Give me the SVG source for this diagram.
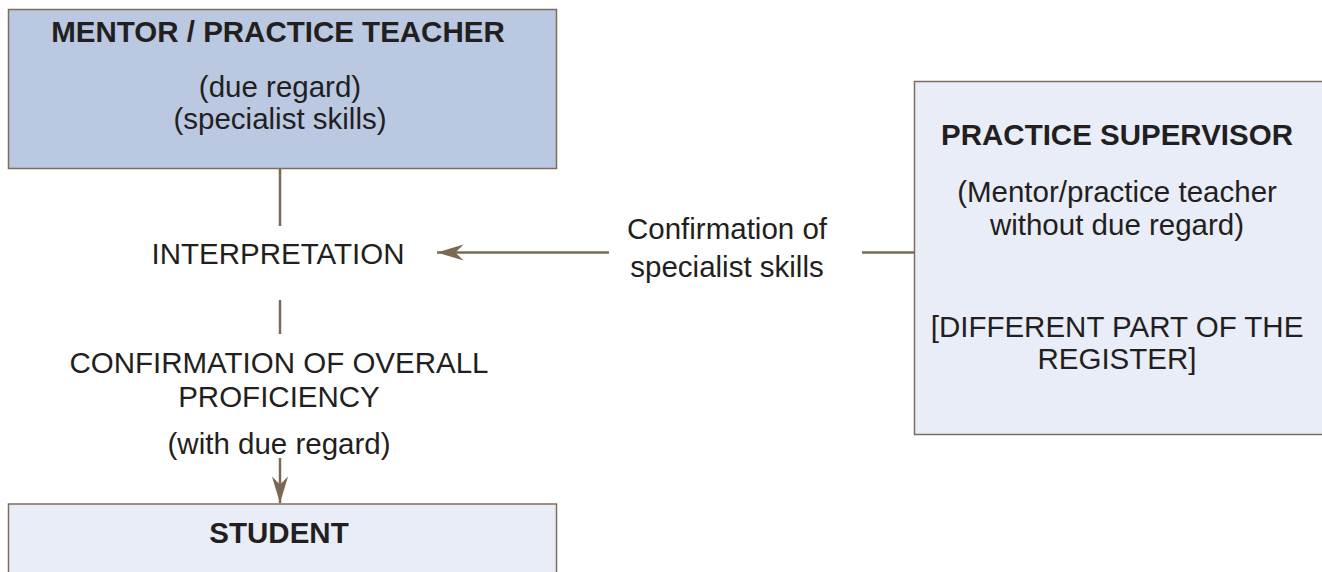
<svg xmlns="http://www.w3.org/2000/svg" width="1322" height="572" viewBox="0 0 1322 572">
<style>
.box{stroke:#7d6e5c;stroke-width:1.5}
.dark{fill:#bac8e2}
.light{fill:#e9edf7}
text{font-family:"Liberation Sans",Arial,sans-serif;fill:#231f20;text-anchor:middle}
.b{font-weight:bold;font-size:29.5px}
.r{font-size:29.5px}
.conn{stroke:#7a6a55;stroke-width:2.5;fill:none}
</style>
<defs>
<marker id="ah" markerUnits="userSpaceOnUse" markerWidth="30" markerHeight="20" viewBox="-24 -8 26 16" refX="0" refY="0" orient="auto">
<path d="M0,0 L-23,-7 L-16,0 L-23,7 Z" fill="#7a6a55"/>
</marker>
</defs>
<g id="connectors">
<line class="conn" x1="280" y1="169" x2="280" y2="226"/>
<line class="conn" x1="280" y1="300" x2="280" y2="334"/>
<line class="conn" x1="280" y1="458" x2="280" y2="503" marker-end="url(#ah)"/>
<line class="conn" x1="609" y1="252.5" x2="437" y2="252.5" marker-end="url(#ah)"/>
<line class="conn" x1="862" y1="252.5" x2="914" y2="252.5"/>
</g>
<g id="mentor">
<rect class="box dark" x="8.5" y="9.5" width="548" height="159"/>
<text class="b" x="278" y="42">MENTOR / PRACTICE TEACHER</text>
<text class="r" x="280" y="97">(due regard)</text>
<text class="r" x="280" y="129">(specialist skills)</text>
</g>
<g id="interpretation">
<text class="r" x="278" y="264">INTERPRETATION</text>
</g>
<g id="confirmation-overall">
<text class="r" x="279" y="373">CONFIRMATION OF OVERALL</text>
<text class="r" x="279" y="407">PROFICIENCY</text>
<text class="r" x="279" y="454">(with due regard)</text>
</g>
<g id="confirmation-specialist">
<text class="r" x="727" y="239">Confirmation of</text>
<text class="r" x="727" y="277">specialist skills</text>
</g>
<g id="practice-supervisor">
<rect class="box light" x="914.5" y="81.5" width="420" height="353"/>
<text class="b" x="1117" y="145">PRACTICE SUPERVISOR</text>
<text class="r" x="1117" y="202">(Mentor/practice teacher</text>
<text class="r" x="1117" y="235">without due regard)</text>
<text class="r" x="1117" y="337">[DIFFERENT PART OF THE</text>
<text class="r" x="1117" y="369">REGISTER]</text>
</g>
<g id="student">
<rect class="box light" x="8.5" y="504" width="548" height="100"/>
<text class="b" x="279" y="543">STUDENT</text>
</g>
</svg>
